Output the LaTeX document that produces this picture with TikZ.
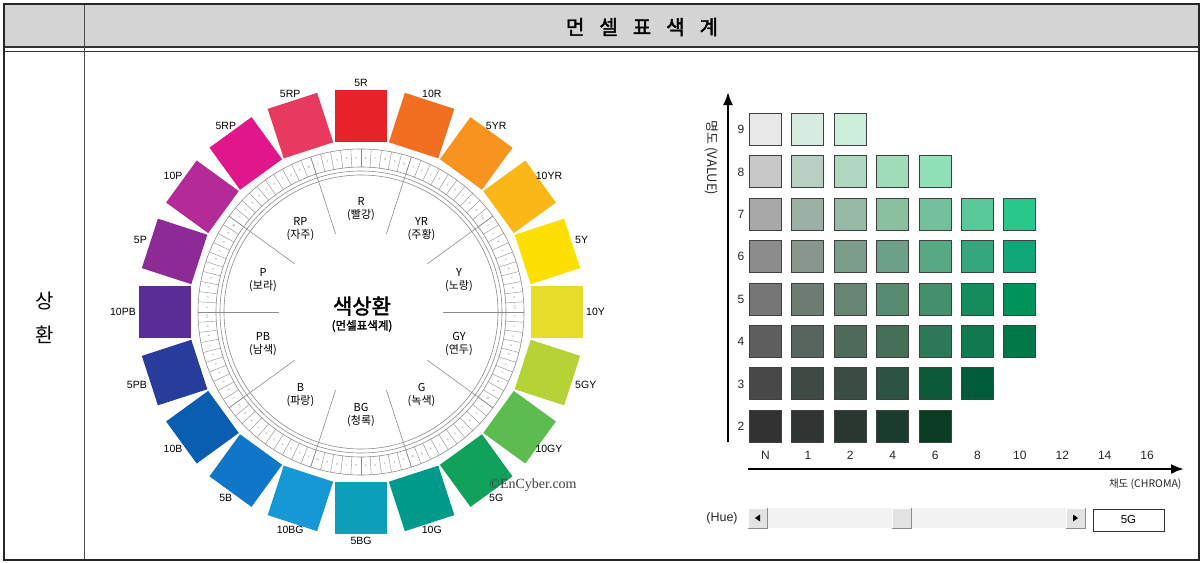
\documentclass[tikz,border=0pt]{standalone}
\usepackage{fontspec}
\setmainfont{Liberation Sans}
\newfontfamily\kr{Noto Sans CJK KR}[AutoFakeBold=2]
\newfontfamily\copyfont{Liberation Serif}
\usetikzlibrary{arrows.meta}

% hue circle colours
\definecolor{h1}{HTML}{E52329}
\definecolor{h2}{HTML}{F26F22}
\definecolor{h3}{HTML}{F7931E}
\definecolor{h4}{HTML}{FBB618}
\definecolor{h5}{HTML}{FEE000}
\definecolor{h6}{HTML}{E5DD2A}
\definecolor{h7}{HTML}{B5D335}
\definecolor{h8}{HTML}{5CBC50}
\definecolor{h9}{HTML}{10A15A}
\definecolor{h10}{HTML}{009A8A}
\definecolor{h11}{HTML}{0CA0B8}
\definecolor{h12}{HTML}{1698D4}
\definecolor{h13}{HTML}{1077C8}
\definecolor{h14}{HTML}{0A5EB0}
\definecolor{h15}{HTML}{283C9C}
\definecolor{h16}{HTML}{5A2D96}
\definecolor{h17}{HTML}{8E2A96}
\definecolor{h18}{HTML}{B42A96}
\definecolor{h19}{HTML}{E0168A}
\definecolor{h20}{HTML}{E8395E}

% value / chroma chips (5G)
\definecolor{v9c0}{HTML}{E8E8E8}\definecolor{v9c1}{HTML}{D8EBE0}\definecolor{v9c2}{HTML}{CDEEDB}
\definecolor{v8c0}{HTML}{C8C8C8}\definecolor{v8c1}{HTML}{B8D0C4}\definecolor{v8c2}{HTML}{B0D8C0}
\definecolor{v8c3}{HTML}{A0DCB8}\definecolor{v8c4}{HTML}{90E0B8}
\definecolor{v7c0}{HTML}{A8A8A8}\definecolor{v7c1}{HTML}{9CB0A6}\definecolor{v7c2}{HTML}{98B8A8}
\definecolor{v7c3}{HTML}{88C0A0}\definecolor{v7c4}{HTML}{74C09C}\definecolor{v7c5}{HTML}{5AC898}
\definecolor{v7c6}{HTML}{28C88C}
\definecolor{v6c0}{HTML}{8C8C8C}\definecolor{v6c1}{HTML}{88968E}\definecolor{v6c2}{HTML}{7C9C8C}
\definecolor{v6c3}{HTML}{6CA088}\definecolor{v6c4}{HTML}{58A884}\definecolor{v6c5}{HTML}{34A87C}
\definecolor{v6c6}{HTML}{10A878}
\definecolor{v5c0}{HTML}{767676}\definecolor{v5c1}{HTML}{6E7C74}\definecolor{v5c2}{HTML}{688474}
\definecolor{v5c3}{HTML}{588C70}\definecolor{v5c4}{HTML}{44906C}\definecolor{v5c5}{HTML}{148C5C}
\definecolor{v5c6}{HTML}{00945C}
\definecolor{v4c0}{HTML}{5E5E5E}\definecolor{v4c1}{HTML}{58645E}\definecolor{v4c2}{HTML}{506A5C}
\definecolor{v4c3}{HTML}{447058}\definecolor{v4c4}{HTML}{2C7858}\definecolor{v4c5}{HTML}{107A50}
\definecolor{v4c6}{HTML}{007848}
\definecolor{v3c0}{HTML}{484848}\definecolor{v3c1}{HTML}{404A44}\definecolor{v3c2}{HTML}{3A4C44}
\definecolor{v3c3}{HTML}{2C5442}\definecolor{v3c4}{HTML}{0C5A38}\definecolor{v3c5}{HTML}{005C38}
\definecolor{v2c0}{HTML}{323232}\definecolor{v2c1}{HTML}{303432}\definecolor{v2c2}{HTML}{2A3630}
\definecolor{v2c3}{HTML}{1A3C2C}\definecolor{v2c4}{HTML}{0A3C24}

\begin{document}
\begin{tikzpicture}[x=1pt, y=-1pt,
    huechip/.style={minimum size=52pt, inner sep=0pt},
    huelab/.style={font=\fontsize{10.5}{10.5}\selectfont, inner sep=1pt},
    ringline/.style={draw=black!45, line width=0.6pt},
    sectorlab/.style={font=\kr\fontsize{11}{13}\selectfont, align=center, inner sep=0pt},
    cellnum/.style={font=\fontsize{3}{3}\selectfont, text=black!50, inner sep=0pt},
    chip/.style={draw=black!75, line width=0.8pt, minimum size=32pt, inner sep=0pt, anchor=north west},
    axis/.style={line width=2.2pt, -{Latex[length=13pt,width=10pt]}},
    ticklab/.style={font=\fontsize{12}{12}\selectfont, text=black!85},
]
\useasboundingbox (0,0) rectangle (1204,562);

% table frame
\fill[black!17] (4,4) rectangle (1199,47);
\draw[black!80, line width=1.5pt] (4,47) -- (1199,47);
\draw[black!80, line width=1pt] (4,51) -- (1199,51);
\draw[black!70, line width=0.8pt] (84,4) -- (84,560);
\draw[black!85, line width=2pt] (4,4) rectangle (1199,560);

\node[font=\kr\bfseries\fontsize{20}{20}\selectfont] (title) at (642,27)
  {먼\hspace{15pt}셀\hspace{15pt}표\hspace{15pt}색\hspace{15pt}계};
\node[font=\kr\fontsize{20}{34}\selectfont, align=center] (rowlab) at (45,318) {상\\환};

% hue circle
\begin{scope}[shift={(361,312)}, y=1pt]
  \foreach \a/\lab [count=\i] in {90/5R, 72/10R, 54/5YR, 36/10YR, 18/5Y, 0/10Y,
      -18/5GY, -36/10GY, -54/5G, -72/10G, -90/5BG, -108/10BG, -126/5B, -144/10B,
      -162/5PB, -180/10PB, -198/5P, -216/10P, -234/5RP, -252/5RP} {
    \node[huechip, fill=h\i, rotate=\a-90] (hue\i) at (\a:196) {};
    \node[huelab, anchor=\a+180] (huelab\i) at (\a:224) {\lab};
  }

  % numbered ring
  \draw[ringline] (0,0) circle[radius=163pt];
  \draw[ringline] (0,0) circle[radius=145pt];
  \draw[ringline] (0,0) circle[radius=141pt];
  \draw[ringline] (0,0) circle[radius=137pt];
  \foreach \k in {0,...,99}
    \draw[ringline, line width=0.4pt] ({3.6*\k}:145) -- ({3.6*\k}:163);
  \foreach \s in {108,72,...,-216}
    \foreach \j in {1,...,10} {
      \pgfmathsetmacro\ang{\s-3.6*(\j-0.5)}
      \node[cellnum, rotate=\ang-90] (num\s-\j) at (\ang:154) {\j};
    }
  \foreach \a in {0,36,...,324}
    \draw[ringline] (\a:82) -- (\a:163);

  \foreach \a/\lab/\kname [count=\i] in {90/R/빨강, 54/YR/주황, 18/Y/노랑, -18/GY/연두,
      -54/G/녹색, -90/BG/청록, -126/B/파랑, -162/PB/남색, 162/P/보라, 126/RP/자주}
    \node[sectorlab] (sec\i) at (\a:103) {\lab\\(\kname)};

  \node[font=\kr\bfseries\fontsize{21}{21}\selectfont] (wheeltitle) at (1,6) {색상환};
  \node[font=\kr\bfseries\fontsize{11.5}{11.5}\selectfont] (wheelsub) at (1,-14) {(먼셀표색계)};
\end{scope}
\node[font=\copyfont\fontsize{14}{14}\selectfont, text=black!75] (copy) at (533,485) {©EnCyber.com};

% value / chroma chart
\foreach \v/\n in {9/2,8/4,7/6,6/6,5/6,4/6,3/5,2/4}
  \foreach \c in {0,...,\n}
    \node[chip, fill=v\v c\c] (chip\v-\c) at ({749+42.4*\c},{113+42.4*(9-\v)}) {};

\foreach \v in {2,...,9}
  \node[ticklab] (val\v) at (741,{129.5+42.4*(9-\v)}) {\v};
\foreach \t [count=\i from 0] in {N,1,2,4,6,8,10,12,14,16}
  \node[ticklab] (chr\i) at ({765.5+42.4*\i},455) {\t};

\coordinate (vbot) at (728,442);
\coordinate (vtop) at (728,92);
\coordinate (hleft) at (748,469);
\coordinate (hright) at (1184,469);
\draw[axis] (vbot) -- (vtop);
\draw[axis] (hleft) -- (hright);

\node[font=\kr\fontsize{13}{13}\selectfont, rotate=-90, text=black!85] (valuelab) at (712,158) {명도 (VALUE)};
\node[font=\kr\fontsize{10.5}{10.5}\selectfont, anchor=east, text=black!85] (chromalab) at (1185,484) {채도 (CHROMA)};

% hue scroll bar
\node[font=\fontsize{12.5}{12.5}\selectfont, text=black!85] (huetxt) at (722,518) {(Hue)};
\fill[black!5] (748,508) rectangle (1085,528);
\foreach \xa in {748,892,1066} {
  \fill[black!11] (\xa,508) rectangle ({\xa+19},528);
  \draw[white, line width=0.8pt] (\xa,528) -- (\xa,508) -- ({\xa+19},508);
  \draw[black!45, line width=0.8pt] (\xa,528) -- ({\xa+19},528) -- ({\xa+19},508);
}
\fill (755,518) -- (760,514.5) -- (760,521.5) -- cycle;
\fill (1078,518) -- (1073,514.5) -- (1073,521.5) -- cycle;
\node[draw=black!80, line width=0.8pt, fill=white, minimum width=71pt, minimum height=22pt,
  font=\fontsize{11.5}{11.5}\selectfont] (hueval) at (1128.5,520) {5G};

\end{tikzpicture}
\end{document}
